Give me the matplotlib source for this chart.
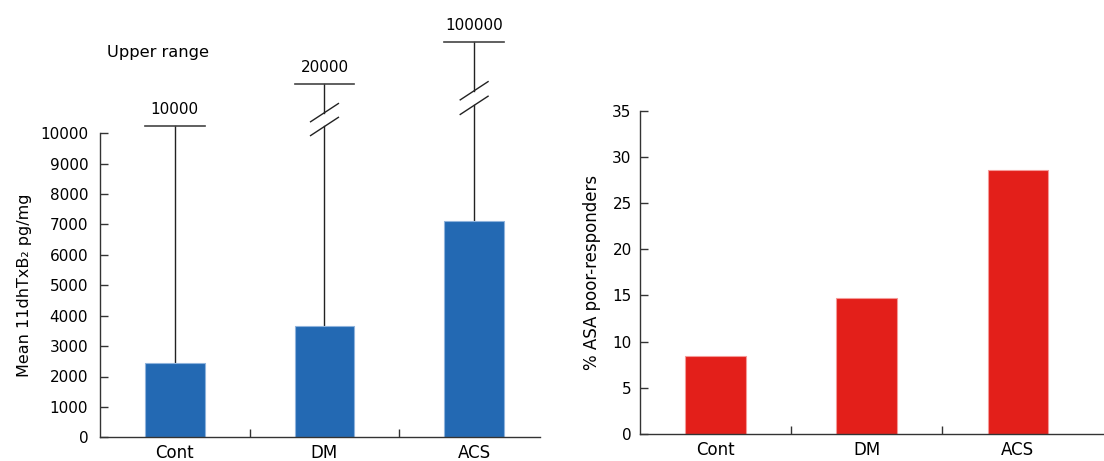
import numpy as np
import matplotlib.pyplot as plt

# data
groups = ["Cont", "DM", "ACS"]
mean_txb2 = [2450, 3650, 7100]            # pg/mg
upper_range = ["10000", "20000", "100000"]
# where the (broken) upper-range caps are drawn on the 0-10000 scale
cap_draw = [10240, 11610, 13000]
# broken segments (upper slash, lower slash) for DM and ACS
break_draw = [None, (10680, 10225), (11400, 10920)]
poor_resp = [8.4, 14.7, 28.6]             # % ASA poor-responders

blue = "#2369b3"
red = "#e31f1a"
plt.rcParams['font.family'] = ['DejaVu Sans']
plt.rcParams['font.size'] = 11

fig = plt.figure(figsize=(11.04, 4.61), dpi=100)
ax1 = fig.add_axes([100 / 1104, 23.7 / 461, 440 / 1104, 304 / 461])
ax2 = fig.add_axes([640 / 1104, 27 / 461, 464 / 1104, 323.3 / 461])

x = np.arange(len(groups))


def style(ax, ypad):
    for s in ["top", "right"]:
        ax.spines[s].set_visible(False)
    for s in ["left", "bottom"]:
        ax.spines[s].set_color("#333333")
        ax.spines[s].set_linewidth(1.0)
    ax.set_xticks(x)
    ax.set_xticklabels(groups, fontsize=12)
    ax.set_xticks([0.5, 1.5], minor=True)
    ax.tick_params(axis="x", which="major", length=0, pad=5)
    ax.tick_params(axis="x", which="minor", direction="in", length=6, width=1.0, color="#333333")
    ax.tick_params(axis="y", direction="in", length=6, width=1.0, color="#333333", pad=ypad)


# left panel
ax1.bar(x, mean_txb2, width=0.4, color=blue, edgecolor="#8fb3dc", linewidth=0.8, zorder=2)
ax1.set_xlim(-0.5, 2.44)
ax1.set_ylim(0, 10000)
ax1.set_yticks(np.arange(0, 10001, 1000))
style(ax1, 8.5)
ax1.set_ylabel("Mean 11dhTxB\u2082 pg/mg", labelpad=6, fontsize=11.5)

sx, sy = 0.093, 300
for i in range(len(groups)):
    top = cap_draw[i]
    br = break_draw[i]
    if br is None:
        ax1.plot([x[i], x[i]], [mean_txb2[i], top], color="#222222", lw=1.0, clip_on=False, zorder=1)
    else:
        up, lo = br
        ax1.plot([x[i], x[i]], [mean_txb2[i], lo], color="#222222", lw=1.0, clip_on=False, zorder=1)
        ax1.plot([x[i], x[i]], [up, top], color="#222222", lw=1.0, clip_on=False, zorder=1)
        for c in (up, lo):
            ax1.plot([x[i] - sx, x[i] + sx], [c - sy, c + sy], color="#222222", lw=1.0, clip_on=False)
    ax1.plot([x[i] - 0.2, x[i] + 0.2], [top, top], color="#444444", lw=1.2, clip_on=False)
    ax1.text(x[i], top + 300, upper_range[i], ha="center", va="bottom", fontsize=11)

ax1.text(-0.45, 12650, "Upper range", ha="left", va="center", fontsize=11.7)

# right panel
ax2.bar(x, poor_resp, width=0.4, color=red, edgecolor="#f59a98", linewidth=0.8, zorder=2)
ax2.set_xlim(-0.5, 2.57)
ax2.set_ylim(0, 35)
ax2.set_yticks(np.arange(0, 36, 5))
style(ax2, 6)
ax2.set_ylabel("% ASA poor-responders", labelpad=8, fontsize=12)

fig.savefig("out.png", dpi=100)
